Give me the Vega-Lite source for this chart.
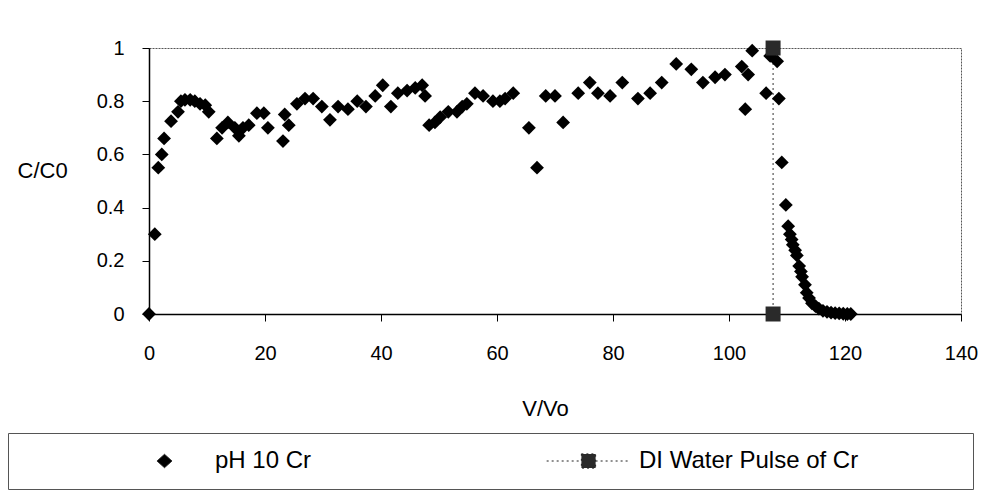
{
  "$schema": "https://vega.github.io/schema/vega-lite/v6.json",
  "width": 812,
  "height": 266,
  "autosize": {"type": "none"},
  "padding": {"left": 149, "top": 48, "right": 23, "bottom": 184},
  "background": "white",
  "config": {
    "view": {"stroke": "#555", "strokeWidth": 1, "strokeDash": [2, 1]},
    "font": "Liberation Sans"
  },
  "data": {
    "values": [
      {"v": 0, "c": 0, "series": "pH 10 Cr"},
      {"v": 1.0, "c": 0.30, "series": "pH 10 Cr"},
      {"v": 1.6, "c": 0.55, "series": "pH 10 Cr"},
      {"v": 2.2, "c": 0.60, "series": "pH 10 Cr"},
      {"v": 2.6, "c": 0.66, "series": "pH 10 Cr"},
      {"v": 3.8, "c": 0.725, "series": "pH 10 Cr"},
      {"v": 5.0, "c": 0.76, "series": "pH 10 Cr"},
      {"v": 5.5, "c": 0.80, "series": "pH 10 Cr"},
      {"v": 6.2, "c": 0.805, "series": "pH 10 Cr"},
      {"v": 7.1, "c": 0.805, "series": "pH 10 Cr"},
      {"v": 7.9, "c": 0.80, "series": "pH 10 Cr"},
      {"v": 8.8, "c": 0.79, "series": "pH 10 Cr"},
      {"v": 9.7, "c": 0.785, "series": "pH 10 Cr"},
      {"v": 10.3, "c": 0.76, "series": "pH 10 Cr"},
      {"v": 11.7, "c": 0.66, "series": "pH 10 Cr"},
      {"v": 12.6, "c": 0.70, "series": "pH 10 Cr"},
      {"v": 13.6, "c": 0.72, "series": "pH 10 Cr"},
      {"v": 14.8, "c": 0.70, "series": "pH 10 Cr"},
      {"v": 15.5, "c": 0.67, "series": "pH 10 Cr"},
      {"v": 16.2, "c": 0.70, "series": "pH 10 Cr"},
      {"v": 17.2, "c": 0.71, "series": "pH 10 Cr"},
      {"v": 18.6, "c": 0.755, "series": "pH 10 Cr"},
      {"v": 19.8, "c": 0.755, "series": "pH 10 Cr"},
      {"v": 20.5, "c": 0.70, "series": "pH 10 Cr"},
      {"v": 23.1, "c": 0.65, "series": "pH 10 Cr"},
      {"v": 23.4, "c": 0.75, "series": "pH 10 Cr"},
      {"v": 24.1, "c": 0.71, "series": "pH 10 Cr"},
      {"v": 25.5, "c": 0.79, "series": "pH 10 Cr"},
      {"v": 26.9, "c": 0.81, "series": "pH 10 Cr"},
      {"v": 28.3, "c": 0.81, "series": "pH 10 Cr"},
      {"v": 29.8, "c": 0.78, "series": "pH 10 Cr"},
      {"v": 31.2, "c": 0.73, "series": "pH 10 Cr"},
      {"v": 32.6, "c": 0.78, "series": "pH 10 Cr"},
      {"v": 34.3, "c": 0.77, "series": "pH 10 Cr"},
      {"v": 35.9, "c": 0.80, "series": "pH 10 Cr"},
      {"v": 37.4, "c": 0.78, "series": "pH 10 Cr"},
      {"v": 39.0, "c": 0.82, "series": "pH 10 Cr"},
      {"v": 40.3, "c": 0.86, "series": "pH 10 Cr"},
      {"v": 41.7, "c": 0.78, "series": "pH 10 Cr"},
      {"v": 42.9, "c": 0.83, "series": "pH 10 Cr"},
      {"v": 44.5, "c": 0.84, "series": "pH 10 Cr"},
      {"v": 45.9, "c": 0.85, "series": "pH 10 Cr"},
      {"v": 47.1, "c": 0.86, "series": "pH 10 Cr"},
      {"v": 47.6, "c": 0.82, "series": "pH 10 Cr"},
      {"v": 48.3, "c": 0.71, "series": "pH 10 Cr"},
      {"v": 49.3, "c": 0.72, "series": "pH 10 Cr"},
      {"v": 50.2, "c": 0.74, "series": "pH 10 Cr"},
      {"v": 51.6, "c": 0.76, "series": "pH 10 Cr"},
      {"v": 53.1, "c": 0.76, "series": "pH 10 Cr"},
      {"v": 54.0, "c": 0.78, "series": "pH 10 Cr"},
      {"v": 54.8, "c": 0.79, "series": "pH 10 Cr"},
      {"v": 56.2, "c": 0.83, "series": "pH 10 Cr"},
      {"v": 57.6, "c": 0.82, "series": "pH 10 Cr"},
      {"v": 59.3, "c": 0.80, "series": "pH 10 Cr"},
      {"v": 60.5, "c": 0.80, "series": "pH 10 Cr"},
      {"v": 61.4, "c": 0.81, "series": "pH 10 Cr"},
      {"v": 62.8, "c": 0.83, "series": "pH 10 Cr"},
      {"v": 65.5, "c": 0.70, "series": "pH 10 Cr"},
      {"v": 66.9, "c": 0.55, "series": "pH 10 Cr"},
      {"v": 68.4, "c": 0.82, "series": "pH 10 Cr"},
      {"v": 70.0, "c": 0.82, "series": "pH 10 Cr"},
      {"v": 71.4, "c": 0.72, "series": "pH 10 Cr"},
      {"v": 74.0, "c": 0.83, "series": "pH 10 Cr"},
      {"v": 76.0, "c": 0.87, "series": "pH 10 Cr"},
      {"v": 77.4, "c": 0.83, "series": "pH 10 Cr"},
      {"v": 79.5, "c": 0.82, "series": "pH 10 Cr"},
      {"v": 81.6, "c": 0.87, "series": "pH 10 Cr"},
      {"v": 84.3, "c": 0.81, "series": "pH 10 Cr"},
      {"v": 86.4, "c": 0.83, "series": "pH 10 Cr"},
      {"v": 88.4, "c": 0.87, "series": "pH 10 Cr"},
      {"v": 90.9, "c": 0.94, "series": "pH 10 Cr"},
      {"v": 93.5, "c": 0.92, "series": "pH 10 Cr"},
      {"v": 95.5, "c": 0.87, "series": "pH 10 Cr"},
      {"v": 97.6, "c": 0.89, "series": "pH 10 Cr"},
      {"v": 99.3, "c": 0.90, "series": "pH 10 Cr"},
      {"v": 102.2, "c": 0.93, "series": "pH 10 Cr"},
      {"v": 103.3, "c": 0.90, "series": "pH 10 Cr"},
      {"v": 102.8, "c": 0.77, "series": "pH 10 Cr"},
      {"v": 104.0, "c": 0.99, "series": "pH 10 Cr"},
      {"v": 106.4, "c": 0.83, "series": "pH 10 Cr"},
      {"v": 107.1, "c": 0.97, "series": "pH 10 Cr"},
      {"v": 108.3, "c": 0.95, "series": "pH 10 Cr"},
      {"v": 108.6, "c": 0.81, "series": "pH 10 Cr"},
      {"v": 109.1, "c": 0.57, "series": "pH 10 Cr"},
      {"v": 109.8, "c": 0.41, "series": "pH 10 Cr"},
      {"v": 110.2, "c": 0.33, "series": "pH 10 Cr"},
      {"v": 110.5, "c": 0.30, "series": "pH 10 Cr"},
      {"v": 110.8, "c": 0.28, "series": "pH 10 Cr"},
      {"v": 111.0, "c": 0.26, "series": "pH 10 Cr"},
      {"v": 111.4, "c": 0.24, "series": "pH 10 Cr"},
      {"v": 111.7, "c": 0.22, "series": "pH 10 Cr"},
      {"v": 112.1, "c": 0.18, "series": "pH 10 Cr"},
      {"v": 112.4, "c": 0.16, "series": "pH 10 Cr"},
      {"v": 112.6, "c": 0.14, "series": "pH 10 Cr"},
      {"v": 113.1, "c": 0.11, "series": "pH 10 Cr"},
      {"v": 113.4, "c": 0.08, "series": "pH 10 Cr"},
      {"v": 113.8, "c": 0.06, "series": "pH 10 Cr"},
      {"v": 114.3, "c": 0.04, "series": "pH 10 Cr"},
      {"v": 114.9, "c": 0.03, "series": "pH 10 Cr"},
      {"v": 115.5, "c": 0.02, "series": "pH 10 Cr"},
      {"v": 116.2, "c": 0.012, "series": "pH 10 Cr"},
      {"v": 116.9, "c": 0.008, "series": "pH 10 Cr"},
      {"v": 117.6, "c": 0.005, "series": "pH 10 Cr"},
      {"v": 118.3, "c": 0.003, "series": "pH 10 Cr"},
      {"v": 119.0, "c": 0.002, "series": "pH 10 Cr"},
      {"v": 119.7, "c": 0.001, "series": "pH 10 Cr"},
      {"v": 120.4, "c": 0, "series": "pH 10 Cr"},
      {"v": 121.0, "c": 0, "series": "pH 10 Cr"},
      {"v": 107.6, "c": 1, "series": "DI Water Pulse of Cr"},
      {"v": 107.6, "c": 0, "series": "DI Water Pulse of Cr"}
    ]
  },
  "encoding": {
    "x": {
      "field": "v",
      "type": "quantitative",
      "scale": {"domain": [0, 140], "nice": false, "zero": false},
      "axis": {
        "values": [0, 20, 40, 60, 80, 100, 120, 140],
        "grid": false,
        "domainColor": "black",
        "domainWidth": 1.5,
        "tickColor": "black",
        "tickSize": 7,
        "labelFont": "Liberation Sans",
        "labelFontSize": 20,
        "labelColor": "black",
        "labelPadding": 22,
        "labelFlush": false,
        "title": "V/Vo",
        "titleFont": "Liberation Sans",
        "titleFontSize": 22,
        "titleFontWeight": "normal",
        "titleColor": "black",
        "titleX": 396,
        "titleY": 94,
        "titleBaseline": "middle",
        "titleAlign": "center"
      }
    },
    "y": {
      "field": "c",
      "type": "quantitative",
      "scale": {"domain": [0, 1], "nice": false},
      "axis": {
        "values": [0, 0.2, 0.4, 0.6, 0.8, 1],
        "format": "~g",
        "grid": false,
        "domainColor": "black",
        "domainWidth": 1.5,
        "tickColor": "black",
        "tickSize": 7,
        "labelFont": "Liberation Sans",
        "labelFontSize": 20,
        "labelColor": "black",
        "labelPadding": 18,
        "labelFlush": false,
        "title": "C/C0",
        "titleFont": "Liberation Sans",
        "titleFontSize": 22,
        "titleFontWeight": "normal",
        "titleColor": "black",
        "titleAngle": 0,
        "titleAlign": "left",
        "titleBaseline": "middle",
        "titleX": -132,
        "titleY": 122
      }
    }
  },
  "layer": [
    {
      "transform": [{"filter": "datum.series == 'DI Water Pulse of Cr'"}],
      "mark": {"type": "line", "color": "#333", "strokeWidth": 1, "strokeDash": [2, 3]},
      "encoding": {}
    },
    {
      "mark": {"type": "point", "filled": true, "opacity": 1},
      "encoding": {
        "color": {
          "field": "series",
          "type": "nominal",
          "scale": {"domain": ["pH 10 Cr", "DI Water Pulse of Cr"], "range": ["#000000", "#2a2a2a"]},
          "legend": {
            "orient": "none",
            "legendX": -141,
            "legendY": 385,
            "direction": "horizontal",
            "columns": 2,
            "title": "\u00a0",
            "titleOrient": "left",
            "titleFontSize": 2,
            "titlePadding": 98,
            "padding": 16,
            "strokeColor": "#555",
            "columnPadding": 234,
            "labelOffset": 8,
            "clipHeight": 24,
            "symbolSize": 7000,
            "symbolType": {"expr": "datum.value == 'DI Water Pulse of Cr' ? 'M-1,0H-0.17M0.17,0H1M-0.17,-0.17H0.17V0.17H-0.17Z' : 'M0,-0.16L0.18,0L0,0.16L-0.18,0Z'"},
            "symbolStrokeWidth": 1,
            "symbolStrokeColor": "#222",
            "symbolDash": {"expr": "datum.value == 'DI Water Pulse of Cr' ? [2, 3] : [1, 0]"},
            "labelFont": "Liberation Sans",
            "labelFontSize": 24,
            "labelColor": "black",
            "labelLimit": 0,
            "labelExpr": "datum.value == 'DI Water Pulse of Cr' ? 'DI Water Pulse of Cr\u00a0\u00a0\u00a0\u00a0\u00a0\u00a0\u00a0\u00a0\u00a0\u00a0\u00a0\u00a0\u2800' : datum.label"
          }
        },
        "shape": {
          "condition": {"test": "datum.series == 'DI Water Pulse of Cr'", "value": "square"},
          "value": "diamond"
        },
        "size": {
          "condition": {"test": "datum.series == 'DI Water Pulse of Cr'", "value": 225},
          "value": 190
        }
      }
    }
  ]
}
